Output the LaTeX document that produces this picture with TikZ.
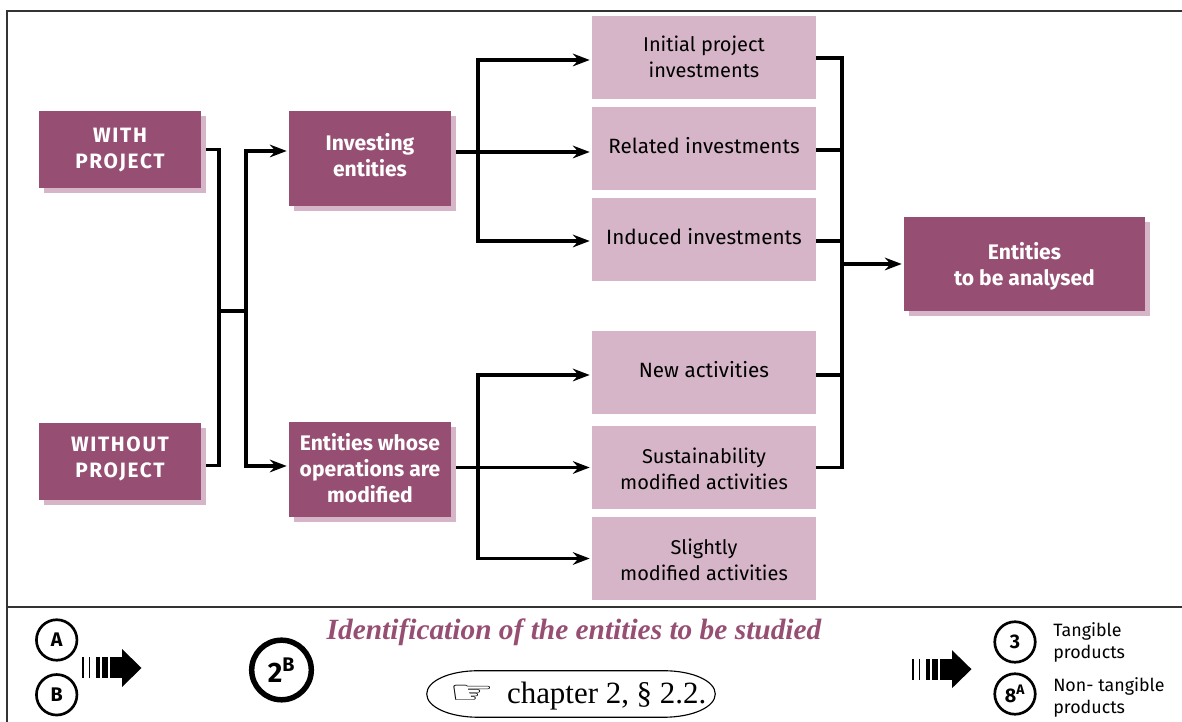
\documentclass[tikz,border=0pt]{standalone}
\usepackage{fontspec}
\setmainfont{Fira Sans}
\newfontfamily\titlefont{Liberation Serif}
\newfontfamily\handfont{DejaVu Sans}
\newfontfamily\capsfont[LetterSpace=8]{Fira Sans}
\usepackage{tikz}
\usetikzlibrary{arrows.meta,backgrounds,shadows}
\definecolor{mauve}{HTML}{964F73}
\definecolor{palemauve}{HTML}{D5B5C7}
\tikzset{
  darkbox/.style={fill=mauve,text=white,align=center,inner sep=0pt,font=\fontsize{15}{18.3}\selectfont\bfseries,
    general shadow={fill=palemauve,shadow xshift=.125cm,shadow yshift=-.125cm}},
  capsbox/.style={darkbox,minimum width=4.05cm,minimum height=1.925cm,font=\fontsize{14.8}{18.3}\selectfont\capsfont\bfseries},
  palebox/.style={fill=palemauve,align=center,inner sep=0pt,minimum width=5.6cm,minimum height=2.075cm,
    font=\fontsize{14.7}{18.3}\selectfont},
  tightbox/.style={palebox,font=\fontsize{14.2}{18.3}\selectfont},
  badge/.style={circle,draw,line width=1.9pt,inner sep=0pt,minimum size=1.0125cm,font=\fontsize{14}{15}\selectfont\bfseries},
  bigbadge/.style={circle,draw,line width=3.9pt,inner sep=0pt,minimum size=1.49cm,font=\fontsize{20}{20}\selectfont\bfseries},
  note/.style={anchor=west,align=left,inner sep=0pt,font=\fontsize{12.7}{15.6}\selectfont},
  link/.style={line width=2.2pt},
  arrowlink/.style={link,-{Stealth[length=12pt,width=9pt,inset=4pt]},shorten >=.05cm}
}
\newcommand{\stripearrow}[2]{
  \foreach \a/\b in {0/.0375,.1625/.2,.35/.45,.5/.65,.7/1.02}
    \fill (#1+\a,#2-.2625) rectangle (#1+\b,#2+.2625);
  \fill (#1+1,#2+.475) -- (#1+1.4875,#2) -- (#1+1,#2-.475) -- cycle;
}
\begin{document}
\begin{tikzpicture}
  \useasboundingbox (0,0) rectangle (29.55,18.05);
  \draw[line width=1pt,black!80] (.175,0) -- (.175,17.775) -- (29.55,17.775);
  \draw[line width=1pt,black!80] (.175,2.875) -- (29.55,2.875);

  \node[capsbox,text depth=1.6pt] (with) at (3,14.3125) {WITH\\PROJECT};
  \node[capsbox,text depth=5.8pt] (without) at (3,6.5125) {WITHOUT\\PROJECT};
  \node[darkbox,minimum width=4.05cm,minimum height=2.375cm,text depth=5pt] (investing) at (9.25,14.0875) {Investing\\entities};
  \node[darkbox,minimum width=4.05cm,minimum height=2.375cm,text depth=2.1pt] (whose) at (9.25,6.3125) {Entities whose\\operations are\\modified};
  \node[tightbox,text depth=1.4pt] (initial) at (17.6,16.6) {Initial project\\investments};
  \node[palebox,text depth=3.9pt] (related) at (17.6,14.3375) {Related investments};
  \node[palebox,text depth=3.9pt] (induced) at (17.6,12.0625) {Induced investments};
  \node[palebox,text depth=4.2pt] (new) at (17.6,8.7375) {New activities};
  \node[tightbox,text height=31.3pt] (sustain) at (17.6,6.3625) {Sustainability\\modified activities};
  \node[tightbox,text height=31.3pt] (slightly) at (17.6,4.0875) {Slightly\\modified activities};
  \node[darkbox,minimum width=6.025cm,minimum height=2.35cm,text depth=-4.2pt] (analysed) at (25.6125,11.45) {Entities\\to be analysed};

  \coordinate (joinL) at (5.475,10.275);
  \coordinate (splitL) at (6.15,10.275);
  \coordinate (splitA) at (11.95,14.25);
  \coordinate (splitB) at (11.95,6.3625);
  \coordinate (joinR) at (21.05,11.45);

  \begin{scope}[on background layer]
    \draw[link] (with.east) -| (joinL);
    \draw[link] ([yshift=-.11cm]without.east) -| (joinL);
    \draw[link] (joinL) -- (splitL);
    \draw[arrowlink] (splitL) |- ([yshift=.1875cm]investing.west);
    \draw[arrowlink] (splitL) |- ([yshift=.0875cm]whose.west);
    \draw[arrowlink] ([yshift=.1625cm]investing.east) -- ([yshift=-.0875cm]related.west);
    \draw[arrowlink] (splitA) |- ([yshift=-.05cm]initial.west);
    \draw[arrowlink] (splitA) |- ([yshift=-.0375cm]induced.west);
    \draw[arrowlink] ([yshift=.05cm]whose.east) -- (sustain.west);
    \draw[arrowlink] (splitB) |- ([yshift=-.0625cm]new.west);
    \draw[arrowlink] (splitB) |- (slightly.west);
    \draw[link] (initial.east) -| (joinR);
    \draw[link] ([yshift=-.0375cm]related.east) -| (joinR);
    \draw[link] ([yshift=-.0375cm]induced.east) -| (joinR);
    \draw[link] ([yshift=-.0625cm]new.east) -| (joinR);
    \draw[link] (sustain.east) -| (joinR);
    \draw[arrowlink] (joinR) -- (analysed.west);
  \end{scope}

  \node[badge] (a) at (1.4175,2.05) {A};
  \node[badge] (b) at (1.4175,.68) {B};
  \stripearrow{2.05}{1.35}
  \node[bigbadge] (two) at (7.0375,1.3) {2\textsuperscript{B}};
  \node[inner sep=0pt,text=mauve,font=\fontsize{20.9}{24}\selectfont\titlefont\bfseries\itshape] (title) at (14.35,2.25) {Identification of the entities to be studied};
  \node[inner sep=0pt,minimum width=7.2cm,minimum height=1.15cm,text depth=1.4pt,font=\fontsize{22}{24}\selectfont\titlefont] (chapter) at (14.275,.7) {\hspace{.35cm}\scalebox{1.5}[.95]{\fontsize{24}{24}\selectfont\handfont ☞}\hspace{.3cm}chapter 2, § 2.2.};
  \draw[line width=.8pt] (chapter.west) .. controls ([yshift=.32cm]chapter.west) and ([xshift=.55cm]chapter.north west) .. ([xshift=1.3cm]chapter.north west)
    -- ([xshift=-1.3cm]chapter.north east) .. controls ([xshift=-.55cm]chapter.north east) and ([yshift=.32cm]chapter.east) .. (chapter.east)
    .. controls ([yshift=-.32cm]chapter.east) and ([xshift=-.55cm]chapter.south east) .. ([xshift=-1.3cm]chapter.south east)
    -- ([xshift=1.3cm]chapter.south west) .. controls ([xshift=.55cm]chapter.south west) and ([yshift=-.32cm]chapter.west) .. (chapter.west);
  \stripearrow{22.8}{1.32}
  \node[badge] (three) at (25.375,2) {3};
  \node[badge] (eight) at (25.375,.7) {8\textsuperscript{A}};
  \node[note] (tangible) at (26.325,2) {Tangible\\products};
  \node[note] (nontangible) at (26.325,.625) {Non- tangible\\products};
\end{tikzpicture}
\end{document}
